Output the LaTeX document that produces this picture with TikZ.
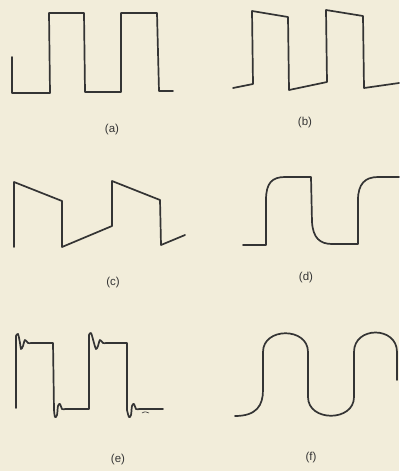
\documentclass[tikz,border=0pt]{standalone}
\usepackage{fontspec}
\setsansfont{Liberation Sans}
\begin{document}
\begin{tikzpicture}[x=1pt,y=-1pt,
  wave/.style={draw=wavecol,line width=1.7pt,line join=round,line cap=round},
  lbl/.style={font=\sffamily\fontsize{11.5}{13}\selectfont,text=wavecol,inner sep=0pt}]
\definecolor{paper}{HTML}{F2EDDA}
\definecolor{wavecol}{HTML}{343434}
\fill[paper] (0,0) rectangle (399,471);
\useasboundingbox (0,0) rectangle (399,471);
% (a)
\draw[wave] (12,57) -- (12,93) -- (50,93) -- (49,13) -- (84,13) -- (85,92) -- (121,92) -- (121,13) -- (157,13) -- (159,91) -- (173,91);
\node[lbl] (la) at (112,130) {(a)};
% (b)
\draw[wave] (233,88) -- (253,84) -- (252,11) -- (288,17) -- (289,90) -- (327,82) -- (326,10) -- (363,16) -- (364,88) -- (399,83);
\node[lbl] (lb) at (305,123) {(b)};
% (c)
\draw[wave] (14,247) -- (14,182) -- (62,201) -- (62,247) -- (112,226) -- (112,181) -- (160,200) -- (161,245) -- (185,235);
\node[lbl] (lc) at (113,283) {(c)};
% (d)
\draw[wave] (243,245) -- (266,245) -- (266,200) .. controls (266,183) and (272,177) .. (285,177) -- (311,177) -- (312,222) .. controls (313,238) and (320,244) .. (332,244) -- (358,244) -- (358,200) .. controls (358,184) and (365,177) .. (378,177) -- (399,177);
\node[lbl] (ld) at (306,278) {(d)};
% (e)
\draw[wave] (16,408) -- (16,336)
  plot[smooth,tension=0.6] coordinates {(16,336) (18,334) (20,343) (21,349) (23,346) (25,340) (28,343) (31,343)}
  -- (53,343) -- (54,410)
  plot[smooth,tension=0.6] coordinates {(54,410) (55,417) (57,415) (58,406) (60,404) (62,409) (65,409)}
  -- (89,409) -- (89,335)
  plot[smooth,tension=0.6] coordinates {(89,335) (91,333) (94,343) (96,349) (98,346) (100,340) (103,343) (106,343)}
  -- (127,343) -- (127,410)
  plot[smooth,tension=0.6] coordinates {(127,410) (129,417) (131,415) (132,406) (134,404) (136,409) (139,409)}
  -- (163,409);
\draw[wavecol,line width=0.6pt] (142,413) .. controls (145,411) and (147,412) .. (149,413);
\node[lbl] (le) at (118,460) {(e)};
% (f)
\draw[wave] (235,416) .. controls (257,416) and (263,405) .. (263,390) -- (263,352)
  .. controls (263,327) and (308,327) .. (308,352) -- (308,397)
  .. controls (308,422) and (354,422) .. (354,397) -- (354,352)
  .. controls (354,326) and (397,326) .. (397,352) -- (397,380);
\node[lbl] (lf) at (311,458) {(f)};
\end{tikzpicture}
\end{document}
